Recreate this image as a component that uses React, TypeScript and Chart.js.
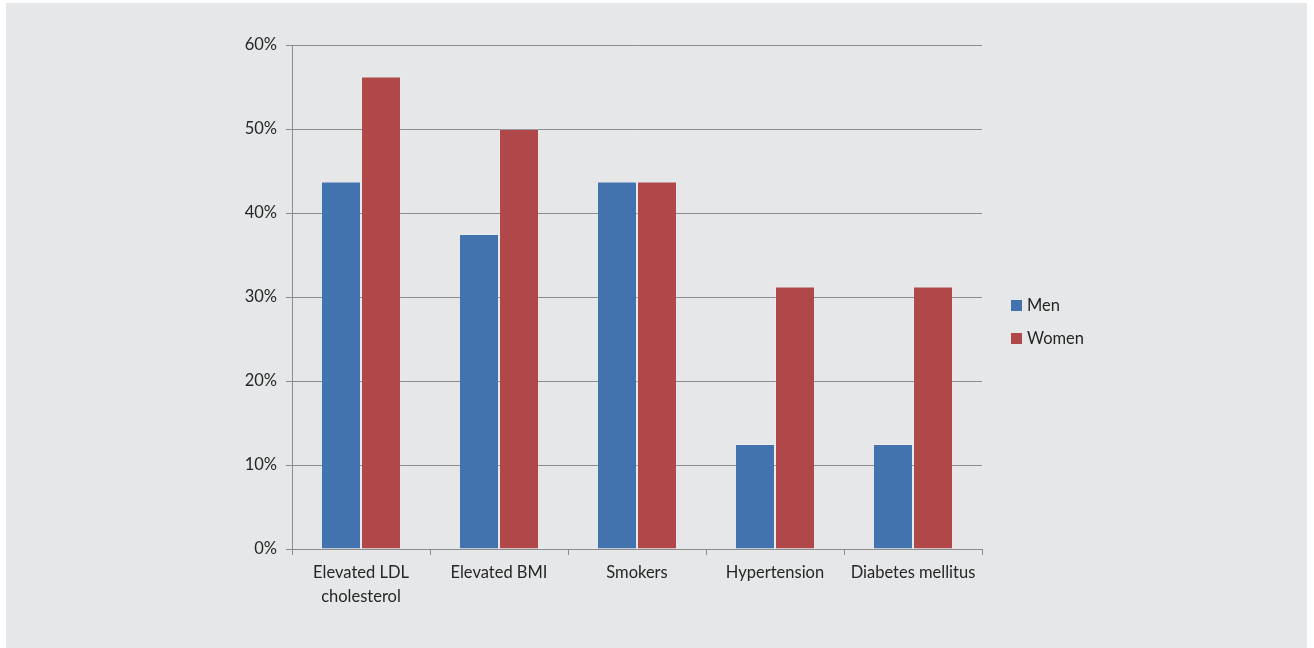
import React, { useEffect, useRef } from "react";
import { Chart, registerables } from "chart.js";

Chart.register(...registerables);

const categories: (string | string[])[] = [
  ["Elevated LDL", "cholesterol"],
  "Elevated BMI",
  "Smokers",
  "Hypertension",
  "Diabetes mellitus",
];
const menValues = [43.75, 37.5, 43.75, 12.5, 12.5];
const womenValues = [56.25, 50, 43.75, 31.25, 31.25];
const yTicks = [0, 10, 20, 30, 40, 50, 60];

const FONT = "Lato, 'Open Sans', sans-serif";
const FONT_SIZE = 16.5;
const TEXT = "#262626";
const GRID = "#8c8c8c";
const MEN = "#4373ae";
const WOMEN = "#b04849";

// Vertical legend drawn to the right of the plot
const sideLegend = {
  id: "sideLegend",
  afterDraw(chart: Chart) {
    const { ctx } = chart;
    const x = 1011;
    const rows = [305.5, 338.5];
    ctx.save();
    ctx.font = `${FONT_SIZE}px ${FONT}`;
    ctx.textBaseline = "middle";
    chart.data.datasets.forEach((ds, i) => {
      const y = rows[i];
      ctx.fillStyle = ds.backgroundColor as string;
      ctx.fillRect(x, y - 5.5, 11, 11);
      ctx.fillStyle = TEXT;
      ctx.fillText(ds.label as string, x + 16, y);
    });
    ctx.restore();
  },
};

export default function App() {
  const canvasRef = useRef<HTMLCanvasElement | null>(null);

  useEffect(() => {
    document.body.style.margin = "0";
    const chart = new Chart(canvasRef.current!, {
      type: "bar",
      data: {
        labels: categories,
        datasets: [
          {
            label: "Men",
            data: menValues,
            backgroundColor: MEN,
            borderColor: "rgba(255,255,255,0.12)",
            borderWidth: 1,
          },
          {
            label: "Women",
            data: womenValues,
            backgroundColor: WOMEN,
            borderColor: "rgba(255,255,255,0.12)",
            borderWidth: 1,
          },
        ],
      },
      options: {
        animation: false,
        responsive: false,
        maintainAspectRatio: false,
        layout: { padding: { left: 0, right: 332, top: 45, bottom: 0 } },
        datasets: {
          bar: { categoryPercentage: 0.58, barPercentage: 1 },
        },
        plugins: {
          legend: { display: false },
          tooltip: { enabled: false },
        },
        scales: {
          x: {
            afterFit: (s: any) => {
              s.height = 99;
            },
            grid: {
              offset: true,
              drawOnChartArea: false,
              drawTicks: true,
              tickLength: 6,
              color: GRID,
            },
            border: { display: true, color: GRID, width: 1 },
            ticks: {
              color: TEXT,
              font: { family: FONT, size: FONT_SIZE, lineHeight: 1.45 },
              padding: 6,
              maxRotation: 0,
              autoSkip: false,
            },
          },
          y: {
            min: 0,
            max: 60,
            afterFit: (s: any) => {
              s.width = 292;
            },
            afterBuildTicks: (s: any) => {
              s.ticks = yTicks.map((v) => ({ value: v }));
            },
            grid: {
              color: GRID,
              tickLength: 6,
              lineWidth: 1,
            },
            border: { display: true, color: GRID, width: 1 },
            ticks: {
              color: TEXT,
              font: { family: FONT, size: FONT_SIZE },
              padding: 9,
              callback: (v: any) => `${v}%`,
            },
          },
        },
      },
      plugins: [sideLegend],
    });
    return () => chart.destroy();
  }, []);

  return (
    <div
      style={{
        position: "relative",
        width: 1314,
        height: 648,
        background: "#ffffff",
        overflow: "hidden",
      }}
    >
      <div
        style={{
          position: "absolute",
          left: 6,
          top: 3,
          width: 1301,
          height: 645,
          background: "#e6e7e8",
        }}
      />
      <canvas
        ref={canvasRef}
        width={1314}
        height={648}
        style={{ position: "absolute", left: 0, top: 0 }}
      />
    </div>
  );
}
